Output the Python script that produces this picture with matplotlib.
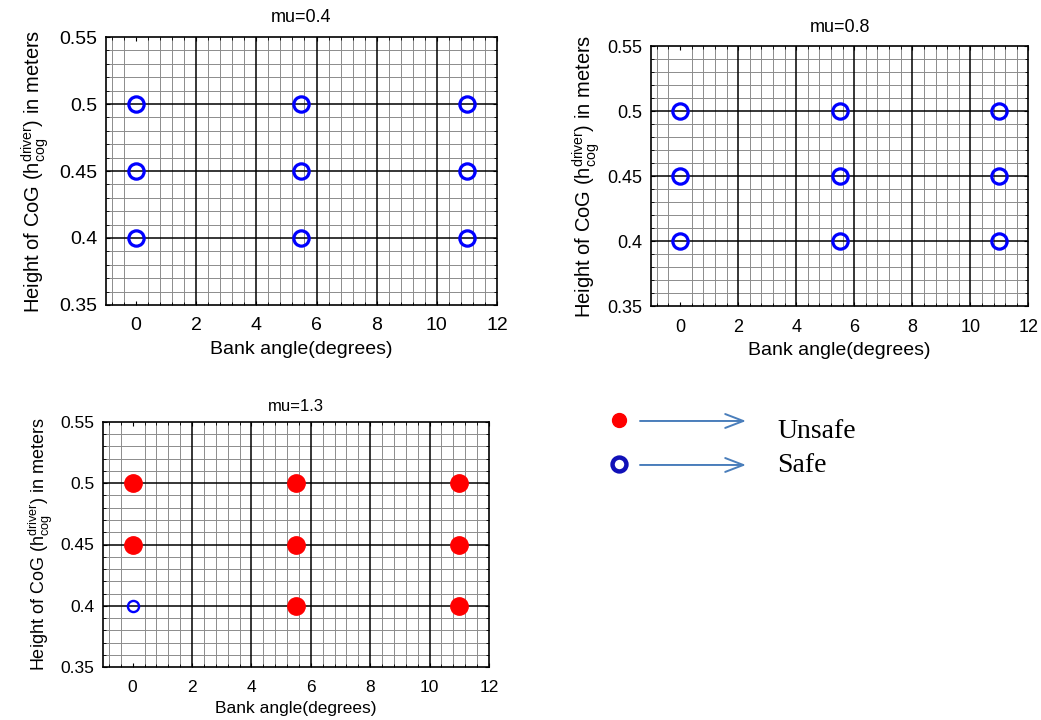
import matplotlib
matplotlib.use('Agg')
import matplotlib.pyplot as plt
from matplotlib.ticker import MultipleLocator

plt.rcParams['font.family'] = ['Liberation Sans', 'DejaVu Sans']
plt.rcParams['mathtext.fontset'] = 'custom'
plt.rcParams['mathtext.rm'] = 'Liberation Sans'
plt.rcParams['mathtext.default'] = 'regular'

# data
bank_angles = [0, 5.5, 11]
cog_heights = [0.4, 0.45, 0.5]
mu_values = [0.4, 0.8, 1.3]

# unsafe cases (only mu=1.3 has any)
unsafe_angle_mu13 = [0, 0, 5.5, 5.5, 5.5, 11, 11, 11]
unsafe_height_mu13 = [0.45, 0.5, 0.4, 0.45, 0.5, 0.4, 0.45, 0.5]

ylabel = 'Height of CoG ($h_{cog}^{driver}$) in meters'


def style_axis(ax, tick_fs, xlabel_fs, ylabel_fs, ylabelpad=4):
    ax.set_xlim(-1, 12)
    ax.set_ylim(0.35, 0.55)
    ax.xaxis.set_major_locator(MultipleLocator(2))
    ax.xaxis.set_minor_locator(MultipleLocator(0.4))
    ax.set_yticks([0.35, 0.4, 0.45, 0.5, 0.55])
    ax.set_yticklabels(['0.35', '0.4', '0.45', '0.5', '0.55'])
    ax.yaxis.set_minor_locator(MultipleLocator(0.01))
    ax.grid(which='minor', color='0.55', lw=0.7, ls='-')
    # the matlab grid leaves out the line at x=0
    for gx in [2, 4, 6, 8, 10]:
        ax.axvline(gx, color='black', lw=1.1, zorder=1)
    for gy in [0.4, 0.45, 0.5]:
        ax.axhline(gy, color='black', lw=1.1, zorder=1)
    ax.set_axisbelow(True)
    ax.tick_params(which='both', direction='in', top=True, right=True,
                   labelsize=tick_fs)
    ax.tick_params(axis='x', pad=9)
    ax.tick_params(axis='y', pad=6)
    ax.tick_params(which='major', length=3)
    ax.tick_params(which='minor', length=2)
    for s in ax.spines.values():
        s.set_linewidth(1.2)
    ax.set_xlabel('Bank angle(degrees)', fontsize=xlabel_fs, labelpad=5)
    ax.set_ylabel(ylabel, fontsize=ylabel_fs, labelpad=ylabelpad)


fig = plt.figure(figsize=(10.41, 7.2), dpi=100)

ax1 = fig.add_axes([0.1018, 0.5764, 0.3756, 0.3722])
ax2 = fig.add_axes([0.6254, 0.575, 0.3625, 0.3611])
ax3 = fig.add_axes([0.0989, 0.0736, 0.3708, 0.3403])

style_axis(ax1, 14, 14, 14.5, ylabelpad=6)
style_axis(ax2, 13, 14, 14.5)
for ax in [ax1, ax2]:
    for h in cog_heights:
        ax.plot(bank_angles, [h] * len(bank_angles), 'o', ls='none', ms=11,
                mfc='none', mec='#0000ff', mew=2.3, zorder=3)
ax1.set_title('mu=%g' % mu_values[0], fontsize=13, pad=11)
ax2.set_title('mu=%g' % mu_values[1], fontsize=13, pad=10)

style_axis(ax3, 12.5, 12.5, 13)
for h in cog_heights:
    ax3.plot(bank_angles, [h] * len(bank_angles), 'o', ls='none', ms=8,
             mfc='none', mec='#0000ff', mew=1.7, zorder=3)
ax3.plot(unsafe_angle_mu13, unsafe_height_mu13, 'o', ls='none', ms=12.5,
         mfc='#ff0000', mec='#ff0000', zorder=4)
ax3.set_title('mu=%g' % mu_values[2], fontsize=12, pad=8)

# hand-drawn legend
fig.lines.append(plt.Line2D([0.5946], [0.4167], marker='o', ms=10, mfc='#ff0000',
                            mec='#ff0000', transform=fig.transFigure))
fig.lines.append(plt.Line2D([0.5946], [0.3556], marker='o', ms=10, mfc='white',
                            mec='#1010b8', mew=3.2, transform=fig.transFigure))
arrow = dict(arrowstyle='->,head_length=1.3,head_width=0.5', color='#4a7ebb', lw=1.4,
             shrinkA=0, shrinkB=0)
fig.add_artist(plt.Annotation('', xy=(0.7166, 0.4153), xytext=(0.6148, 0.4153),
                              xycoords='figure fraction', textcoords='figure fraction',
                              arrowprops=arrow))
fig.add_artist(plt.Annotation('', xy=(0.7166, 0.3542), xytext=(0.6148, 0.3542),
                              xycoords='figure fraction', textcoords='figure fraction',
                              arrowprops=arrow))
fig.text(0.7464, 0.401, 'Unsafe', fontsize=20, family='Liberation Serif', va='center')
fig.text(0.7464, 0.354, 'Safe', fontsize=20, family='Liberation Serif', va='center')

fig.savefig('out.png', dpi=100)
